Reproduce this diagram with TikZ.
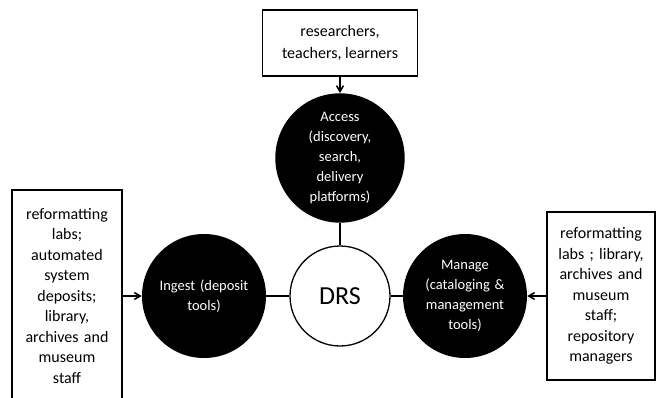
\documentclass[tikz,border=0pt]{standalone}
\usepackage{fontspec}
\setmainfont{Carlito}
\usetikzlibrary{arrows}

\begin{document}
\begin{tikzpicture}[x=1pt,y=-1pt,>=angle 60,
  party/.style={draw,line width=1.8pt,align=center,font=\fontsize{16}{20.5}\selectfont,inner sep=2pt},
  service/.style={circle,fill=black,text=white,minimum size=124pt,inner sep=0pt,text width=92pt,align=center,font=\fontsize{14.5}{20}\selectfont},
  feed/.style={->,line width=1.6pt},
  link/.style={-,line width=1.4pt}]
\useasboundingbox (0,0) rectangle (657,397);
\clip (0,0) rectangle (657,397);
\node[party,minimum width=155pt,minimum height=66pt,font=\fontsize{16}{22}\selectfont] (users) at (340,43) {researchers,\\teachers, learners};
\node[service] (access) at (340,158) {Access\\(discovery,\\search,\\delivery\\platforms)};
\node[circle,draw,line width=1.3pt,minimum size=100pt,font=\fontsize{26}{30}\selectfont] (drs) at (340,296) {DRS};
\node[service] (ingest) at (204,296) {Ingest (deposit\\tools)};
\node[service] (manage) at (465,296) {Manage\\(cataloging \&\\management\\tools)};
\node[party,minimum width=110pt,minimum height=212pt,text width=104pt] (depositors) at (67,296) {reformatting\\labs;\\automated\\system\\deposits;\\library,\\archives and\\museum\\staff};
\node[party,minimum width=108pt,minimum height=168pt,text width=102pt] (managers) at (601,296) {reformatting\\labs ; library,\\archives and\\museum\\staff;\\repository\\managers};
\path[feed] (users) edge (access) (depositors) edge (ingest) (managers) edge (manage);
\path[link] (access) edge (drs) (ingest) edge (drs) (drs) edge (manage);
\end{tikzpicture}
\end{document}
